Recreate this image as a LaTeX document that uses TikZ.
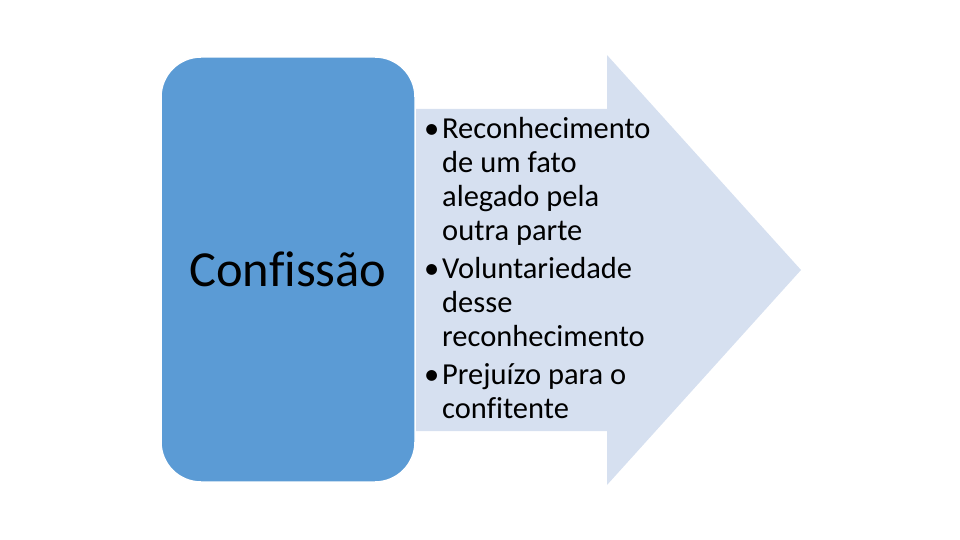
\documentclass[tikz,border=0pt]{standalone}
\usepackage{fontspec}
\setmainfont{Carlito}[Ligatures=NoCommon]
\definecolor{boxblue}{RGB}{91,155,213}
\definecolor{arrowblue}{RGB}{214,224,240}
\begin{document}
\begin{tikzpicture}[x=1pt,y=-1pt,
  mainbox/.style={fill=boxblue,draw=white,line width=1.5pt,rounded corners=40pt,
    minimum width=254pt,minimum height=425pt,inner sep=0pt,font=\fontsize{50.5}{60}\selectfont},
  bullettext/.style={inner sep=0pt,anchor=base west,font=\fontsize{30.5}{34}\selectfont}]
\useasboundingbox (0,0) rectangle (960,540);
\fill[arrowblue] (300,109) -- (607,109) -- (607,55) -- (801,270) -- (607,485) -- (607,431) -- (300,431) -- cycle;
\node[mainbox] (box) at (288,269.5) {Confissão};
\node[bullettext] (list) at (424,139) {\begin{tabular}[t]{@{}l@{}l@{}}
\makebox[18pt][l]{\textbullet} & Reconhecimento\\
 & de um fato\\
 & alegado pela\\
 & outra parte\\[4pt]
\textbullet & Voluntariedade\\
 & desse\\
 & reconhecimento\\[4pt]
\textbullet & Prejuízo para o\\
 & confitente
\end{tabular}};
\end{tikzpicture}
\end{document}
